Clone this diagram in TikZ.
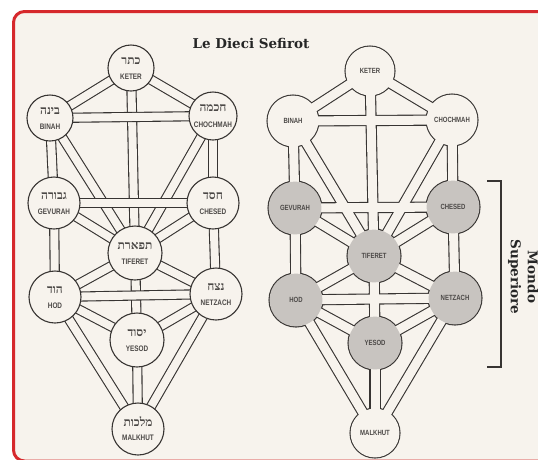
\documentclass[tikz,border=0pt]{standalone}
\usepackage{fontspec}
\usepackage{graphicx}
\TeXXeTstate=1
\newfontfamily\lblfont{Liberation Sans}
\newfontfamily\hebfont[Script=Hebrew]{Liberation Serif}
\newfontfamily\ttlfont{DejaVu Serif}
\definecolor{bg}{RGB}{247,243,237}
\definecolor{ink}{RGB}{55,52,50}
\definecolor{sef}{RGB}{200,196,192}
\definecolor{frame}{RGB}{214,40,44}
\newcommand\lblL[1]{\scalebox{0.8}[1]{\lblfont\bfseries\fontsize{8}{8}\selectfont #1}}
\newcommand\lblR[1]{\scalebox{0.8}[1]{\lblfont\bfseries\fontsize{7.5}{7.5}\selectfont #1}}
\newcommand\heb[1]{{\hebfont\bfseries\fontsize{12}{12}\selectfont\beginR #1\endR}}
\begin{document}
\begin{tikzpicture}[x=1pt,y=-1pt,inner sep=0pt,
  txt/.style={text=ink!90},
  chout/.style={draw=ink,line width=10.2pt},
  chin/.style={draw=bg,line width=8pt},
  rchout/.style={draw=ink,line width=11.2pt},
  rchin/.style={draw=bg,line width=9pt}]
\useasboundingbox (0,0) rectangle (538,459);
\clip (0,0) rectangle (538,459);
\fill[white] (0,0) rectangle (538,459);
\filldraw[fill=bg,draw=frame,line width=3pt,rounded corners=11pt] (13.5,11.5) rectangle (580,461);
% ---------- left tree centres
\coordinate (lk) at (131,68);
\coordinate (lb) at (50,118);
\coordinate (lc) at (213,116);
\coordinate (lg) at (54,203);
\coordinate (lch) at (213,203);
\coordinate (lt) at (135,253);
\coordinate (lh) at (55,297);
\coordinate (ln) at (216,294);
\coordinate (ly) at (137,340);
\coordinate (lm) at (138,429);
\foreach \a/\b in {lk/lc,lk/lb,lk/lt,lc/lt,lc/lch,lb/lt,lb/lg,lch/lt,lch/ln,lg/lt,lg/lh,lt/ln,lt/ly,lt/lh,ln/ly,ln/lm,lh/ly,lh/lm,ly/lm,lb/lc,lg/lch,lh/ln}{
  \path[chout] (\a) -- (\b);
  \path[chin] (\a) -- (\b);
}
\foreach \c/\r in {lk/23,lb/23,lc/24,lg/26,lch/26,lt/27,lh/26,ln/26,ly/27,lm/26}{
  \filldraw[fill=bg,draw=ink,line width=1.1pt] (\c) circle[radius=\r pt];
}
% left labels
\node[txt] (hk) at (131,61) {\heb{כתר}};
\node[txt] (tk) at (131,77) {\lblL{KETER}};
\node[txt] (hb) at (50,111) {\heb{בינה}};
\node[txt] (tb) at (50,127) {\lblL{BINAH}};
\node[txt] (hc) at (213,108) {\heb{חכמה}};
\node[txt] (tc) at (213,125) {\lblL{CHOCHMAH}};
\node[txt] (hg) at (54,196) {\heb{גבורה}};
\node[txt] (tg) at (54,212) {\lblL{GEVURAH}};
\node[txt] (hch) at (213,196) {\heb{חסד}};
\node[txt] (tch) at (213,212) {\lblL{CHESED}};
\node[txt] (ht) at (135,246) {\heb{תפארת}};
\node[txt] (tt) at (135,262) {\lblL{TIFERET}};
\node[txt] (hh) at (55,290) {\heb{הוד}};
\node[txt] (th) at (55,306) {\lblL{HOD}};
\node[txt] (hn) at (216,287) {\heb{נצח}};
\node[txt] (tn) at (216,303) {\lblL{NETZACH}};
\node[txt] (hy) at (137,333) {\heb{יסוד}};
\node[txt] (ty) at (137,349) {\lblL{YESOD}};
\node[txt] (hm) at (138,422) {\heb{מלכות}};
\node[txt] (tm) at (138,438) {\lblL{MALKHUT}};
% ---------- right tree centres
\coordinate (rk) at (370,71);
\coordinate (rb) at (293,121);
\coordinate (rc) at (452,120);
\coordinate (rg) at (295,208);
\coordinate (rch) at (453,207);
\coordinate (rt) at (374,256);
\coordinate (rh) at (296,300);
\coordinate (rn) at (455,298);
\coordinate (ry) at (375,343);
\coordinate (rm) at (375,433);
\def\rlinks{rk/rc,rk/rb,rk/rt,rc/rt,rc/rch,rb/rt,rb/rg,rch/rt,rch/rn,rg/rt,rg/rh,rt/rn,rt/ry,rt/rh,rn/ry,rn/rm,rh/ry,rh/rm,ry/rm,rb/rc,rg/rch,rh/rn}
\foreach \a/\b in \rlinks { \path[rchout] (\a) -- (\b); }
\foreach \c/\r in {rk/25,rb/26,rc/26,rg/27,rch/27,rt/27,rh/27,rn/27,ry/27,rm/25}{
  \fill[ink] (\c) circle[radius=\r pt+0.55pt];
}
\foreach \a/\b in \rlinks { \path[rchin] (\a) -- (\b); }
\foreach \c/\r in {rk/25,rb/26,rc/26,rm/25}{
  \fill[bg] (\c) circle[radius=\r pt-0.55pt];
}
\foreach \c/\r in {rg/27,rch/27,rt/27,rh/27,rn/27,ry/27}{
  \fill[sef] (\c) circle[radius=\r pt-0.55pt];
}
\node[txt] (uk) at (rk) {\lblR{KETER}};
\node[txt] (ub) at (rb) {\lblR{BINAH}};
\node[txt] (uc) at (rc) {\lblR{CHOCHMAH}};
\node[txt] (ug) at (rg) {\lblR{GEVURAH}};
\node[txt] (uch) at (rch) {\lblR{CHESED}};
\node[txt] (ut) at (rt) {\lblR{TIFERET}};
\node[txt] (uh) at (rh) {\lblR{HOD}};
\node[txt] (un) at (rn) {\lblR{NETZACH}};
\node[txt] (uy) at (ry) {\lblR{YESOD}};
\node[txt] (um) at (rm) {\lblR{MALKHUT}};
% ---------- title and bracket
\node[text=black!85] (title) at (251,43) {\ttlfont\bfseries\fontsize{13.5}{13.5}\selectfont Le Dieci Sefirot};
\coordinate (q1) at (487,181);
\coordinate (q2) at (501,181);
\coordinate (q3) at (501,367);
\coordinate (q4) at (487,367);
\draw[ink,line width=1.2pt] (q1) -- (q2) -- (q3) -- (q4);
\node[text=black!85,rotate=-90,align=center,
  font=\ttlfont\bfseries\fontsize{13.5}{17}\selectfont] (mondo) at (523,277)
  {Mondo\\Superiore};
\end{tikzpicture}
\end{document}
